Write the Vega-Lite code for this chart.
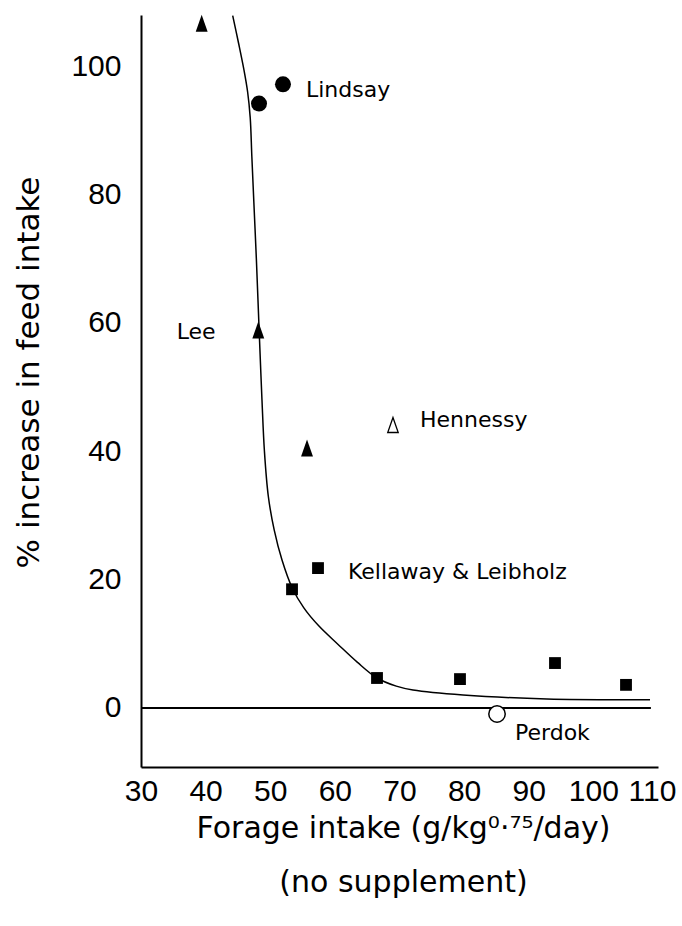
{
  "$schema": "https://vega.github.io/schema/vega-lite/v6.json",
  "width": 517,
  "height": 752,
  "autosize": {"type": "none"},
  "padding": {"left": 141, "top": 15, "right": 24, "bottom": 159},
  "background": "white",
  "config": {"view": {"stroke": null}},
  "datasets": {
    "points": [
      {"study": "Lee", "marker": "tri", "x": 39.39, "y": 106.7},
      {"study": "Lee", "marker": "tri", "x": 48.15, "y": 58.9},
      {"study": "Lee", "marker": "tri", "x": 55.69, "y": 40.5},
      {"study": "Lindsay", "marker": "circle", "x": 48.26, "y": 94.2},
      {"study": "Lindsay", "marker": "circle", "x": 51.97, "y": 97.2},
      {"study": "Hennessy", "marker": "tri_open", "x": 68.99, "y": 44.1},
      {"study": "Kellaway & Leibholz", "marker": "square", "x": 57.39, "y": 21.8},
      {"study": "Kellaway & Leibholz", "marker": "square", "x": 53.37, "y": 18.5},
      {"study": "Kellaway & Leibholz", "marker": "square", "x": 66.52, "y": 4.67},
      {"study": "Kellaway & Leibholz", "marker": "square", "x": 79.36, "y": 4.5},
      {"study": "Kellaway & Leibholz", "marker": "square", "x": 94.06, "y": 7.0},
      {"study": "Kellaway & Leibholz", "marker": "square", "x": 105.05, "y": 3.6},
      {"study": "Perdok", "marker": "circle_open", "x": 85.09, "y": -0.93}
    ],
    "curve": [
      {"x": 44.19, "y": 107.9},
      {"x": 45.10, "y": 103.6},
      {"x": 45.90, "y": 99.6},
      {"x": 46.50, "y": 96.0},
      {"x": 46.90, "y": 92.0},
      {"x": 47.15, "y": 86.0},
      {"x": 47.45, "y": 79.1},
      {"x": 47.85, "y": 70.0},
      {"x": 48.10, "y": 63.6},
      {"x": 48.30, "y": 58.4},
      {"x": 48.72, "y": 48.0},
      {"x": 49.10, "y": 40.0},
      {"x": 49.70, "y": 33.0},
      {"x": 50.60, "y": 27.8},
      {"x": 51.82, "y": 23.05},
      {"x": 53.40, "y": 18.7},
      {"x": 55.20, "y": 15.6},
      {"x": 57.50, "y": 12.8},
      {"x": 60.50, "y": 9.9},
      {"x": 63.50, "y": 7.1},
      {"x": 66.52, "y": 4.67},
      {"x": 69.50, "y": 3.4},
      {"x": 72.09, "y": 2.80},
      {"x": 79.83, "y": 2.02},
      {"x": 92.82, "y": 1.40},
      {"x": 108.76, "y": 1.30}
    ],
    "zero": [{"x": 30, "x2": 108.9, "y": 0}],
    "labels": [
      {"label": "Lindsay", "x": 55.53, "y": 96.3},
      {"label": "Lee", "x": 35.52, "y": 58.6},
      {"label": "Hennessy", "x": 73.17, "y": 44.9},
      {"label": "Kellaway & Leibholz", "x": 62.03, "y": 21.2},
      {"label": "Perdok", "x": 87.87, "y": -3.9}
    ]
  },
  "encoding": {
    "x": {
      "field": "x",
      "type": "quantitative",
      "scale": {"domain": [30, 110], "nice": false, "zero": false},
      "axis": {
        "values": [30, 40, 50, 60, 70, 80, 90, 100, 110],
        "ticks": false,
        "tickSize": 0,
        "grid": false,
        "domainColor": "black",
        "domainWidth": 2,
        "labelFont": "Liberation Sans",
        "labelFontSize": 30,
        "labelColor": "black",
        "labelPadding": 9,
        "labelFlush": false,
        "labelOverlap": false,
        "labelOffset": {"condition": {"test": "datum.value == 110", "value": -6}, "value": 0},
        "title": ["Forage intake (g/kg⁰·⁷⁵/day)", "(no supplement)"],
        "titleFont": "DejaVu Sans",
        "titleFontSize": 30,
        "titleFontWeight": "normal",
        "titleColor": "black",
        "titleLineHeight": 54,
        "titleAlign": "center",
        "titleAngle": 0,
        "titleBaseline": "alphabetic",
        "titleX": 262,
        "titleY": 70
      }
    },
    "y": {
      "field": "y",
      "type": "quantitative",
      "scale": {"domain": [-9.2, 108], "nice": false, "zero": false},
      "axis": {
        "values": [0, 20, 40, 60, 80, 100],
        "ticks": false,
        "tickSize": 0,
        "grid": false,
        "domainColor": "black",
        "domainWidth": 2,
        "labelFont": "Liberation Sans",
        "labelFontSize": 30,
        "labelColor": "black",
        "labelPadding": 20,
        "labelFlush": false,
        "labelOverlap": false,
        "title": "% increase in feed intake",
        "titleFont": "DejaVu Sans",
        "titleFontSize": 31,
        "titleFontWeight": "normal",
        "titleColor": "black",
        "titleAngle": 270,
        "titleAlign": "center",
        "titleBaseline": "alphabetic",
        "titleX": -103,
        "titleY": 357
      }
    }
  },
  "layer": [
    {
      "data": {"name": "zero"},
      "mark": {"type": "rule", "color": "black", "strokeWidth": 2},
      "encoding": {"x2": {"field": "x2"}}
    },
    {
      "data": {"name": "curve"},
      "mark": {"type": "line", "color": "black", "strokeWidth": 1.5, "interpolate": "catmull-rom"},
      "encoding": {}
    },
    {
      "data": {"name": "points"},
      "transform": [{"filter": {"field": "marker", "equal": "tri"}}],
      "mark": {"type": "point", "shape": "M0,-1L0.7,1L-0.7,1Z", "size": 289, "filled": true, "color": "black", "opacity": 1}
    },
    {
      "data": {"name": "points"},
      "transform": [{"filter": {"field": "marker", "equal": "circle"}}],
      "mark": {"type": "point", "shape": "circle", "size": 256, "filled": true, "color": "black", "opacity": 1}
    },
    {
      "data": {"name": "points"},
      "transform": [{"filter": {"field": "marker", "equal": "square"}}],
      "mark": {"type": "point", "shape": "square", "size": 140, "filled": true, "color": "black", "opacity": 1}
    },
    {
      "data": {"name": "points"},
      "transform": [{"filter": {"field": "marker", "equal": "tri_open"}}],
      "mark": {"type": "point", "shape": "M0,-1L0.7,1L-0.7,1Z", "size": 225, "filled": false, "fill": "white", "stroke": "black", "strokeWidth": 1.3, "opacity": 1}
    },
    {
      "data": {"name": "points"},
      "transform": [{"filter": {"field": "marker", "equal": "circle_open"}}],
      "mark": {"type": "point", "shape": "circle", "size": 270, "filled": false, "fill": "white", "stroke": "black", "strokeWidth": 1.5, "opacity": 1}
    },
    {
      "data": {"name": "labels"},
      "mark": {"type": "text", "align": "left", "baseline": "middle", "font": "DejaVu Sans", "fontSize": 22, "color": "black"},
      "encoding": {"text": {"field": "label"}}
    }
  ]
}
